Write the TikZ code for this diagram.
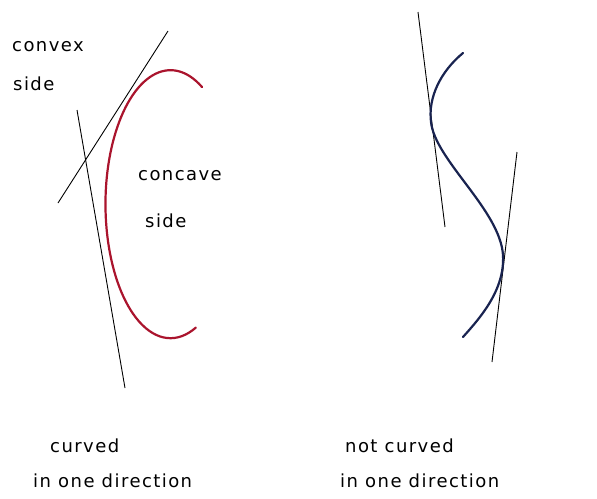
\documentclass[tikz,border=0pt]{standalone}
\usepackage{fontspec}
\usepackage{tikz}
\usetikzlibrary{calc}

\newfontfamily\handfont[LetterSpace=8]{DejaVu Sans}
\definecolor{curvered}{RGB}{170,20,45}
\definecolor{curveblue}{RGB}{25,35,80}

\begin{document}
\begin{tikzpicture}[x=1pt,y=-1pt,
  tangent/.style={line width=0.9pt},
  curveline/.style={line width=2.2pt,line cap=round},
  hand/.style={anchor=west,inner sep=0pt,font=\handfont\fontsize{18}{20}\selectfont}]

\useasboundingbox (0,0) rectangle (597,498);

% Tangent lines, left
\draw[tangent] (168,31) -- (58,203);
\draw[tangent] (77,110) -- (125,388);

% C-shaped curve
\draw[curveline,curvered] (202,87) arc[start angle=-61,end angle=-293,x radius=65,y radius=134];

% Labels, left
\node[hand] (convex) at (12,47) {convex};
\node[hand] (convexside) at (13,84) {side};
\node[hand] (concave) at (138,176) {concave};
\node[hand] (concaveside) at (145,221) {side};

% Tangent lines, right
\draw[tangent] (418,12) -- (445,227);
\draw[tangent] (517,152) -- (492,362);

% S-shaped curve
\draw[curveline,curveblue] (463,53) .. controls (440,72) and (428,98) .. (431,122)
  .. controls (435,160) and (500,210) .. (503,255)
  .. controls (505,290) and (480,318) .. (463,337);

% Captions
\node[hand] (curved) at (50,446) {curved};
\node[hand] (curveddir) at (33,481) {in one direction};
\node[hand] (notcurved) at (345,446) {not curved};
\node[hand] (notcurveddir) at (340,481) {in one direction};

\end{tikzpicture}
\end{document}
